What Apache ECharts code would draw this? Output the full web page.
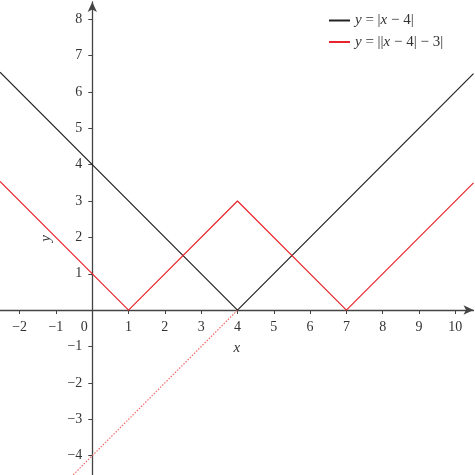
<!DOCTYPE html>
<html>
<head>
<meta charset="utf-8">
<script src="https://cdn.jsdelivr.net/npm/echarts@6/dist/echarts.min.js"></script>
<style>
html, body { margin: 0; padding: 0; background: #fff; }
#chart { width: 475px; height: 475px; }
</style>
</head>
<body>
<div id="chart"></div>
<script>
let xTicks = [-2, -1, 0, 1, 2, 3, 4, 5, 6, 7, 8, 9, 10];
let yTicks = [-4, -3, -2, -1, 1, 2, 3, 4, 5, 6, 7, 8];
let absLine = [[-2.54, 6.54], [4, 0], [10.5, 6.5]];
let nestedLine = [[-2.54, 3.54], [1, 0], [4, 3], [7, 0], [10.5, 3.5]];
let dottedLine = [[4, 0], [-0.55, -4.55]];
let names = ['y = |x − 4|', 'y = ||x − 4| − 3|'];

const FONT = '"Liberation Serif", "DejaVu Serif", serif';

function minus(v){
    return String(v).replace('-', '−');
}

function setChart(){
    let myChart = echarts.init(document.getElementById('chart'));

    // 图例文字：变量用斜体
    let legendText = {};
    legendText[names[0]] = '{i|y} = |{i|x} − 4|';
    legendText[names[1]] = '{i|y} = ||{i|x} − 4| − 3|';

    // 坐标轴画在 (0,0) 处：用负 offset 把轴从网格边缘移进来
    let xAxisOffset = -165;
    let yAxisOffset = -92.3;

    let option = {
        animation: false,
        textStyle: { fontFamily: FONT },
        grid: { left: 0, right: 1.5, top: 2, bottom: 0, outerBoundsMode: 'none', containLabel: false },
        legend: {
            orient: 'vertical',
            left: 329,
            top: 13,
            padding: 0,
            itemWidth: 21,
            itemHeight: 2,
            itemGap: 6.5,
            icon: 'rect',
            data: names,
            formatter: function (name) { return legendText[name]; },
            textStyle: {
                fontFamily: FONT,
                fontSize: 15,
                color: '#333',
                rich: {
                    i: { fontFamily: FONT, fontSize: 15, fontStyle: 'italic', color: '#333' }
                }
            }
        },
        xAxis: {
            type: 'value',
            position: 'bottom',
            offset: xAxisOffset,
            min: -2.54,
            max: 10.5,
            name: 'x',
            nameLocation: 'middle',
            nameGap: 31,
            nameTextStyle: { fontFamily: FONT, fontSize: 15, fontStyle: 'italic', color: '#333' },
            splitLine: { show: false },
            axisLine: {
                onZero: false,
                symbol: ['none', 'arrow'],
                symbolSize: [7, 10],
                lineStyle: { color: '#444', width: 1.3 }
            },
            axisTick: { show: true, length: 4, customValues: xTicks, lineStyle: { color: '#444', width: 1 } },
            axisLabel: {
                customValues: xTicks,
                margin: 10,
                fontFamily: FONT,
                fontSize: 14,
                color: '#333',
                formatter: function (v) {
                    if (v === 0) return '{z|0}';
                    return minus(v);
                },
                rich: {
                    z: { fontFamily: FONT, fontSize: 14, color: '#333', padding: [0, 16, 0, 0] }
                }
            }
        },
        yAxis: {
            type: 'value',
            position: 'left',
            offset: yAxisOffset,
            min: -4.53,
            max: 8.47,
            name: 'y',
            nameLocation: 'middle',
            nameGap: 39,
            nameTextStyle: { fontFamily: FONT, fontSize: 15, fontStyle: 'italic', color: '#333' },
            splitLine: { show: false },
            axisLine: {
                onZero: false,
                symbol: ['none', 'arrow'],
                symbolSize: [7, 10],
                lineStyle: { color: '#444', width: 1.3 }
            },
            axisTick: { show: true, length: 4, customValues: yTicks, lineStyle: { color: '#444', width: 1 } },
            axisLabel: {
                customValues: yTicks,
                margin: 10,
                fontFamily: FONT,
                fontSize: 14,
                color: '#333',
                formatter: function (v) { return minus(v); }
            }
        },
        series: [{
            name: names[0],
            type: 'line',
            data: absLine,
            showSymbol: false,
            color: '#222',
            lineStyle: { color: '#222', width: 1.2 },
            z: 3
        }, {
            name: names[1],
            type: 'line',
            data: nestedLine,
            showSymbol: false,
            color: '#e8242c',
            lineStyle: { color: '#e8242c', width: 1.2 },
            z: 3
        }, {
            name: 'dotted',
            type: 'line',
            data: dottedLine,
            showSymbol: false,
            lineStyle: { color: '#f06868', width: 1.2, type: [1.5, 1.5] },
            z: 2
        }]
    };

    myChart.setOption(option);
}

window.onload = function (){
    setChart();
}
</script>
</body>
</html>
